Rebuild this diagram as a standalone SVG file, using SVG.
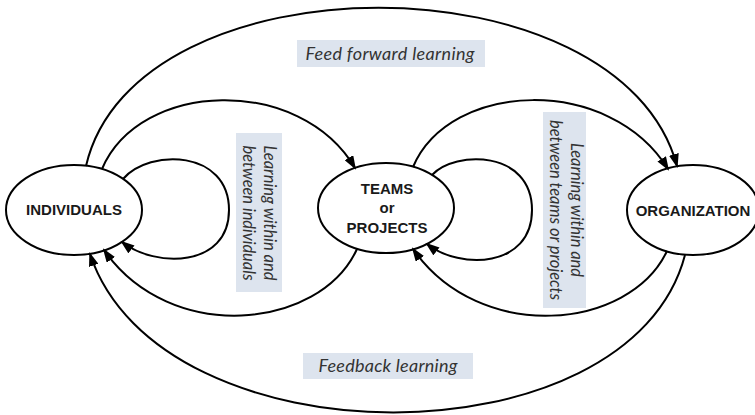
<svg xmlns="http://www.w3.org/2000/svg" width="755" height="415" viewBox="0 0 755 415">
<style>
.node{fill:#fff;stroke:#000;stroke-width:2}
.nt{font-family:"Liberation Sans",Arial,sans-serif;font-weight:bold;font-size:15px;fill:#1a1a1a;text-anchor:middle}
.edge{fill:none;stroke:#000;stroke-width:2;marker-end:url(#ah)}
.box{fill:#dde4ee}
.lt{font-family:Lato,"Open Sans",sans-serif;font-style:italic;font-size:18px;fill:#333;text-anchor:middle}
.rt{font-family:Lato,"Open Sans",sans-serif;font-style:italic;font-size:16.5px;fill:#333;text-anchor:middle}
</style>
<defs>
<marker id="ah" markerWidth="14" markerHeight="10" refX="12" refY="5" orient="auto" markerUnits="userSpaceOnUse">
<path d="M0,0 L14,5 L0,10 z" fill="#000"/>
</marker>
</defs>
<rect width="755" height="415" fill="#fff"/>
<g id="labels">
<g id="label-feedforward">
<rect class="box" x="297" y="40" width="188" height="27"/>
<text class="lt" x="390" y="60" textLength="169">Feed forward learning</text>
</g>
<g id="label-feedback">
<rect class="box" x="303" y="353" width="170" height="26"/>
<text class="lt" x="388" y="372" textLength="139">Feedback learning</text>
</g>
<g id="label-individuals">
<rect class="box" x="236" y="133" width="46" height="159"/>
<text class="rt" transform="translate(264,213) rotate(90)" textLength="135">Learning within and</text>
<text class="rt" transform="translate(243,213) rotate(90)" textLength="135">between individuals</text>
</g>
<g id="label-teams">
<rect class="box" x="543" y="112" width="43" height="196"/>
<text class="rt" transform="translate(571,210) rotate(90)" textLength="134">Learning within and</text>
<text class="rt" transform="translate(550,210) rotate(90)" textLength="180">between teams or projects</text>
</g>
</g>
<g id="n-individuals">
<ellipse class="node" cx="74" cy="210" rx="68" ry="45"/>
<text class="nt" x="74" y="215">INDIVIDUALS</text>
</g>
<g id="n-teams">
<ellipse class="node" cx="386" cy="208" rx="68" ry="45"/>
<text class="nt" x="387" y="194">TEAMS</text>
<text class="nt" x="387" y="213">or</text>
<text class="nt" x="387" y="233">PROJECTS</text>
</g>
<g id="n-organization">
<ellipse class="node" cx="693" cy="210" rx="66" ry="45"/>
<text class="nt" x="693" y="216">ORGANIZATION</text>
</g>
<g id="connectors">
<path class="edge" d="M86,166 C135,-45 620,-45 677,166"/>
<path class="edge" d="M102,169 C140,80 300,75 355,168"/>
<path class="edge" d="M413,167 C450,80 610,75 668,169"/>
<path class="edge" d="M123,179 C150,148 229,150 229,210 C229,268 155,268 122,242"/>
<path class="edge" d="M432,175 C455,150 532,150 532,210 C532,268 460,270 427,244"/>
<path class="edge" d="M357,249 C320,330 170,345 104,250"/>
<path class="edge" d="M667,251 C630,330 480,345 413,249"/>
<path class="edge" d="M685,255 C630,465 160,465 90,254"/>
</g>
</svg>
